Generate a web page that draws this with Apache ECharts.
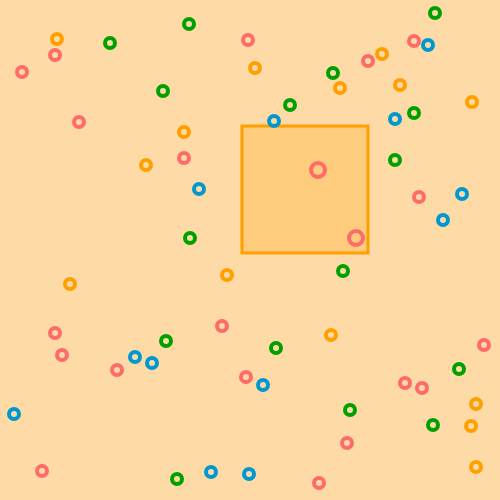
<!DOCTYPE html>
<html>
<head>
<meta charset="utf-8">
<title>scatter brush</title>
<script src="https://cdn.jsdelivr.net/npm/echarts@6/dist/echarts.min.js"></script>
<style>
	html,body{margin:0;padding:0;}
	#main{width:500px;height:500px;}
</style>
</head>
<body>
<div id="main"></div>
<script>
// 数据 (x, y)，坐标范围 0-500
var redData = [[55,445],[22,428],[79,378],[248,460],[184,342],[414,459],[368,439],[419,303],
	[318,330],[356,262],[55,167],[62,145],[117,130],[42,29],[222,174],[246,123],[484,155],
	[405,117],[422,112],[347,57],[319,17]];
var orangeData = [[57,461],[255,432],[184,368],[146,335],[382,446],[340,412],[400,415],[472,398],
	[70,216],[227,225],[331,165],[476,96],[471,74],[476,33]];
var greenData = [[110,457],[189,476],[163,409],[290,395],[333,427],[435,487],[414,387],[395,340],
	[190,262],[343,229],[166,159],[276,152],[459,131],[350,90],[433,75],[177,21]];
var blueData = [[274,379],[428,455],[395,381],[199,311],[462,306],[443,280],[135,143],[152,137],
	[14,86],[263,115],[211,28],[249,26]];
// 框选范围
var brushX = [242,368];
var brushY = [247,374];

var bgColor = '#fedba6';

function ringSeries(name, data, color){
	return {
		name: name,
		type: 'scatter',
		data: data,
		symbol: 'circle',
		symbolSize: 10,
		z: 5,
		itemStyle: {
			color: 'rgba(0,0,0,0)',
			borderColor: color,
			borderWidth: 4,
			opacity: 1
		}
	};
}

var myChart = echarts.init(document.getElementById('main'));
var option = {
	backgroundColor: bgColor,
	animation: false,
	toolbox: {show: false},
	grid: {left:0, right:0, top:0, bottom:0},
	xAxis: {type:'value', min:0, max:500, show:false},
	yAxis: {type:'value', min:0, max:500, show:false},
	brush: {
		toolbox: [],
		z: 1,
		xAxisIndex: 'all',
		yAxisIndex: 'all',
		brushStyle: {
			borderWidth: 3,
			color: 'rgba(255,160,0,0.25)',
			borderColor: '#ffa000'
		},
		inBrush: {symbolSize: 14},
		outOfBrush: {opacity: 1}
	},
	series: [
		ringSeries('red', redData, '#ff6b6b'),
		ringSeries('orange', orangeData, '#ffa000'),
		ringSeries('green', greenData, '#00a000'),
		ringSeries('blue', blueData, '#0098d0')
	]
};
myChart.setOption(option);

// 设置框选区域
myChart.dispatchAction({
	type: 'brush',
	areas: [{
		brushType: 'rect',
		xAxisIndex: 0,
		coordRange: [brushX, brushY]
	}]
});
</script>
</body>
</html>
